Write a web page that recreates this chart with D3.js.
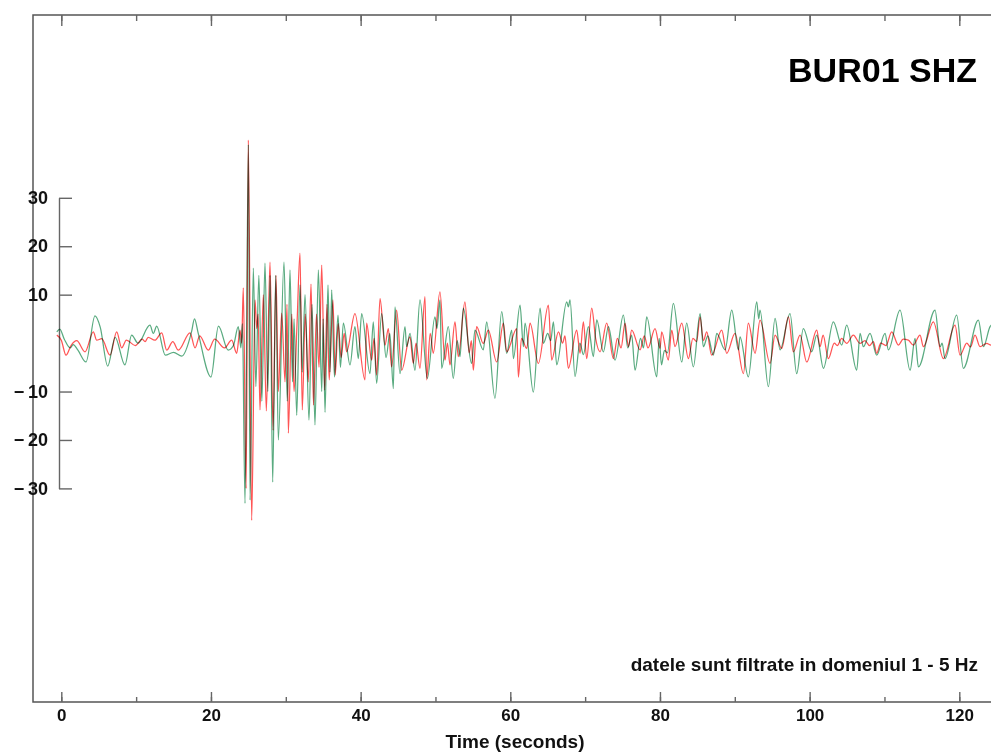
<!DOCTYPE html>
<html>
<head>
<meta charset="utf-8">
<script src="https://cdn.jsdelivr.net/npm/d3@7"></script>
<style>
  body { margin: 0; background: #fff; }
  svg { display: block; }
  .trace { fill: none; stroke-width: 1.25; mix-blend-mode: multiply; stroke-linejoin: round; }
  .frame { stroke: #555; stroke-width: 1.5; fill: none; }
  .axis path, .axis line { stroke: #666; stroke-width: 1.4; }
  .narrow { font-family: "Liberation Sans Narrow", "Arial Narrow", sans-serif; font-weight: bold; fill: #111; }
</style>
</head>
<body>
<svg id="chart" width="991" height="752"></svg>
<script>
// tick values
const xMinorTicks = [0, 10, 20, 30, 40, 50, 60, 70, 80, 90, 100, 110, 120];
const xMajorTicks = [0, 20, 40, 60, 80, 100, 120];
const yTicks = [30, 20, 10, -10, -20, -30];

// [time (s), amplitude], red trace
const redTrace = [
  [-0.6, 1.65], [0.0, 0.6], [0.63, -2.5], [1.3, -0.5], [2.06, 0.5], [3.17, -1.8], [4.28, 2.3], [4.73, 0.6],
  [5.4, 0.9], [6.51, -2.5], [7.4, 2.3], [8.07, -1.0], [8.7, 0.6], [9.9, -0.5], [10.8, 0.8], [11.2, 0.3],
  [11.6, 1.2], [12.5, 0.6], [13.42, 2.1], [14.09, -1.45], [14.9, 0.3], [15.64, -1.45], [17.2, 2.1], [17.87, -1.0],
  [18.5, 1.5], [19.64, -1.45], [20.5, 0.8], [21.8, -1.0], [22.77, 0.6], [23.44, -2.1], [23.88, 2.7], [24.1, 0],
  [24.32, 11.4], [24.7, -30], [24.99, 41.9], [25.44, -36.6], [25.89, 8.9], [26.11, 3], [26.3, 6], [26.55, -13.8],
  [27.0, 10], [27.4, -14], [27.89, 16.7], [28.3, -18], [28.69, 14.0], [29.0, -10], [29.45, 6.2], [29.9, -8],
  [30.16, 8], [30.34, -18.6], [30.8, 6], [31.1, -10], [31.5, 4], [31.9, 18.6], [32.2, -13.8], [32.6, 6],
  [33.0, -8], [33.37, 12.2], [33.7, -12.8], [34.1, 6], [34.44, -5], [34.8, 16.1], [35.2, -9.7], [35.5, 8],
  [35.8, -7.6], [36.3, 8.9], [36.6, -6.6], [37.0, 4], [37.4, -3], [37.8, 2], [38.13, -1.8], [39.24, 6.1],
  [40.58, -7.6], [40.8, 4.1], [41.47, -3.5], [41.8, 1], [42.14, -6.6], [42.59, 9.2], [43.25, -0.4], [43.7, 3.0],
  [44.14, -4.9], [44.81, 6.8], [45.48, -5.6], [46.59, 1.3], [47.04, -4.2], [47.4, 0], [47.93, -5.2], [48.6, 9.6],
  [48.82, -7.6], [49.3, 2], [49.71, -2.1], [50.6, 10.6], [51.27, -3.5], [51.6, 0], [51.94, -4.5], [52.61, 4.4],
  [53.05, -2.8], [53.94, 8.5], [54.5, -2], [54.8, 0.5], [55.06, -5.6], [55.5, 3.4], [56.39, -0.07], [57.06, 2.7],
  [58.18, -3.9], [59.08, 4.1], [59.52, -1.8], [60.86, 3.0], [61.08, -7.0], [61.5, 1], [62.19, -1.1], [62.64, 4.1],
  [63.75, -4.2], [65.09, 7.85], [65.53, -3.5], [66.43, 2.3], [67.0, 0], [67.3, 1.5], [67.76, -5.2], [68.87, 2.7],
  [69.32, -2.1], [69.77, 4.4], [70.21, -3.2], [70.88, 7.2], [71.4, 1], [72.0, -1.8], [72.88, 4.1], [73.78, -3.2],
  [74.3, 1], [74.8, -1], [75.33, 4.1], [75.78, -0.75], [76.22, 2.7], [77.34, -1.4], [77.9, 1.5], [78.4, -1],
  [79.34, 3.0], [80.01, -1.1], [80.23, 2.3], [81.12, -3.5], [81.57, 2.7], [82.01, -0.75], [82.91, 4.1], [83.8, -3.2],
  [84.4, 1], [84.9, 0.3], [85.36, 5.4], [85.8, 0.5], [86.25, 2.3], [86.91, -2.5], [88.25, 2.7], [88.92, -2.1],
  [90.03, 2.0], [91.15, -6.3], [91.81, 4.1], [92.71, -2.1], [93.37, 4.75], [94.71, -4.2], [95.38, 1.65], [96.27, -1.1],
  [97.16, 5.4], [97.83, -1.8], [98.72, 1.65], [99.61, -3.9], [100.95, 2.7], [101.39, -0.75], [101.8, 1.65], [102.5, -3.2],
  [103.3, 0], [103.7, -0.5], [104.29, 0.96], [104.95, -0.07], [105.84, 1.65], [106.74, -0.07], [107.4, 0.5], [108.0, -0.5],
  [108.52, 0.3], [108.96, -2.1], [109.5, 0], [110.2, -0.5], [110.97, 2.3], [111.86, -0.4], [112.5, 0.8], [113.19, 0.6],
  [113.86, -0.4], [114.75, 1.65], [115.2, -0.75], [116.53, 4.4], [117.87, -3.2], [119.43, 3.7], [120.1, -2.5], [121.0, 0],
  [121.5, -0.8], [122.1, 1.65], [122.77, -0.75], [123.66, -0.07], [124.24, -0.4], [124.5, 0]
];

// green trace
const greenTrace = [
  [-0.6, 2.3], [-0.2, 2.9], [0.4, 0.8], [1.2, -1.0], [1.6, -0.3], [2.2, -1.4], [3.3, -3.9], [4.5, 5.6],
  [5.2, 3.3], [6.2, -4.75], [7.2, 1.2], [8.5, -4.5], [9.4, 1.65], [10.25, 0], [11.85, 3.7], [12.3, 2.0],
  [12.75, 3.5], [13.9, -2.5], [15.0, -1.9], [16.1, -2.7], [17.4, 2.3], [17.8, 5.0], [18.3, 2.0], [20.0, -7.0],
  [21.0, 3.5], [22.3, -1.45], [23.0, -0.5], [23.65, 3.4], [24.0, -1.0], [24.2, 4.0], [24.55, -33.1], [25.0, 41.0],
  [25.22, -32.4], [25.66, 15.5], [26.0, -9], [26.4, 14], [26.8, -12], [27.22, 16.5], [27.6, -10], [27.9, 14],
  [28.25, -28.7], [28.65, 14], [29.0, -20.0], [29.76, 16.7], [30.2, -12], [30.56, 15.1], [30.9, -8], [31.1, 5],
  [31.46, -14.9], [31.9, 12], [32.2, -6], [32.57, 10], [33.1, -15.9], [33.5, 8], [33.9, -16.9], [34.35, 15.1],
  [34.8, -10], [35.0, 5], [35.24, -14.3], [35.64, 12.0], [35.9, -6], [36.13, 11.0], [36.5, -7], [36.98, 5.8],
  [37.3, -5], [37.69, 4.1], [38.58, -4.5], [39.24, 3.4], [39.69, -3.2], [40.14, 6.1], [41.25, -6.3], [41.69, 4.4],
  [42.14, -8.3], [42.81, 6.1], [43.4, -3], [43.9, 2], [44.37, -9.4], [44.59, 7.5], [45.26, -6.3], [45.93, 3.4],
  [46.15, -0.75], [46.6, 2], [47.26, -5.6], [47.93, 8.9], [48.91, -7.3], [49.93, 5.4], [50.2, 3], [50.6, 8.9],
  [50.83, -5.2], [51.72, 3.4], [52.38, -7.3], [52.9, 0.5], [53.28, -2.8], [53.72, 7.2], [54.83, -4.2], [55.28, 2.7],
  [56.39, -1.4], [56.84, 4.4], [57.95, -11.4], [58.85, 6.5], [59.52, -2.1], [60.19, 2.7], [60.41, -3.2], [61.3, 7.85],
  [61.75, -0.75], [61.97, 4.1], [63.08, -10.1], [63.98, 7.2], [64.42, -0.07], [65.0, 2.0], [65.4, 0.5], [65.76, 4.4],
  [66.2, -4.5], [67.54, 8.5], [67.76, 7.5], [67.98, 8.9], [68.65, -6.9], [69.3, 0], [69.77, -2.4], [70.43, 3.4],
  [71.1, -2.8], [71.55, 4.8], [72.44, -1.8], [73.11, 3.4], [74.0, -3.5], [75.11, 5.8], [75.7, -1], [76.22, 1.65],
  [76.67, -5.6], [77.4, 1.0], [77.8, -1.0], [78.23, 5.4], [79.57, -6.96], [79.9, 1.0], [80.2, -4.5], [80.6, -1.5],
  [81.0, -2.0], [81.79, 8.2], [82.91, -3.9], [83.57, 4.1], [84.46, -4.9], [85.36, 6.1], [85.8, -0.75], [86.4, 1.5],
  [87.14, -2.5], [87.58, 2.0], [88.7, -1.4], [89.59, 6.8], [90.48, -1.4], [90.7, 1.3], [91.81, -6.96], [92.93, 8.5],
  [93.2, 5], [93.37, 6.8], [94.49, -9.0], [95.38, 5.1], [96.05, -1.4], [97.38, 6.1], [98.27, -6.3], [99.16, 3.0],
  [100.28, -1.8], [100.95, 1.65], [101.84, -5.2], [103.17, 4.4], [104.29, -0.4], [104.95, 3.7], [106.29, -5.6], [106.74, 2.0],
  [107.18, -0.75], [108.07, 2.0], [108.96, -2.5], [110.08, 2.0], [110.52, -1.4], [112.08, 6.8], [113.42, -5.6], [114.09, 0.96],
  [114.53, -4.9], [116.76, 6.8], [117.43, -0.75], [117.7, 0], [118.09, -3.2], [119.65, 5.8], [120.54, -5.2], [122.55, 4.75],
  [123.22, -0.75], [124.11, 3.4], [124.5, 4.0]
];

const frame = { left: 33, top: 15, right: 991, bottom: 702 };

const svg = d3.select('#chart');

const xScale = d3.scaleLinear().domain([0, 120]).range([61.3, 959.3]);
const yScale = d3.scaleLinear().domain([-30, 30]).range([488.4, 197.8]);

// frame lines (left, top, bottom)
svg.append('path')
  .attr('class', 'frame')
  .attr('d', `M${frame.right},${frame.top}H${frame.left}V${frame.bottom}H${frame.right}`);

// top ticks pointing down
svg.append('g')
  .attr('class', 'axis')
  .attr('transform', `translate(0, ${frame.top})`)
  .call(d3.axisTop(xScale).tickValues(xMinorTicks).tickSize(-6).tickFormat(''))
  .call((g) => g.select('.domain').remove());
svg.append('g')
  .attr('class', 'axis')
  .attr('transform', `translate(0, ${frame.top})`)
  .call(d3.axisTop(xScale).tickValues(xMajorTicks).tickSize(-11).tickFormat(''))
  .call((g) => g.select('.domain').remove());

// bottom ticks pointing up, with labels
svg.append('g')
  .attr('class', 'axis')
  .attr('transform', `translate(0, ${frame.bottom})`)
  .call(d3.axisBottom(xScale).tickValues(xMinorTicks).tickSize(-5).tickFormat(''))
  .call((g) => g.select('.domain').remove());
const xAxis = svg.append('g')
  .attr('class', 'axis')
  .attr('transform', `translate(0, ${frame.bottom})`)
  .call(d3.axisBottom(xScale).tickValues(xMajorTicks).tickSize(-10).tickPadding(7))
  .call((g) => g.select('.domain').remove());
xAxis.selectAll('text')
  .attr('class', 'narrow')
  .style('font-size', '17px');

// inner amplitude axis
svg.append('g')
  .attr('class', 'axis')
  .attr('transform', 'translate(59, 0)')
  .call(d3.axisRight(yScale).tickValues(yTicks).tickSize(13).tickSizeOuter(0).tickFormat(''));
const yAxis = svg.append('g')
  .attr('transform', 'translate(59, 0)')
  .call(d3.axisLeft(yScale).tickValues(yTicks).tickSize(0).tickPadding(11)
    .tickFormat((d) => (d < 0 ? '\u2212\u2009' + Math.abs(d) : String(d))))
  .call((g) => g.select('.domain').remove());
yAxis.selectAll('text')
  .style('font-family', '"Liberation Sans", Arial, sans-serif')
  .style('font-weight', 'bold')
  .style('font-size', '18px')
  .attr('fill', '#111');

// traces
const line = d3.line()
  .x((d) => xScale(d[0]))
  .y((d) => yScale(d[1]))
  .curve(d3.curveMonotoneX);

svg.append('path')
  .datum(greenTrace)
  .attr('class', 'trace')
  .attr('stroke', '#5aab80')
  .attr('d', line);

svg.append('path')
  .datum(redTrace)
  .attr('class', 'trace')
  .attr('stroke', '#ff5555')
  .attr('d', line);

// texts
svg.append('text')
  .attr('x', 977)
  .attr('y', 82)
  .attr('text-anchor', 'end')
  .style('font-family', '"Liberation Sans", Arial, sans-serif')
  .style('font-weight', 'bold')
  .style('font-size', '34px')
  .attr('fill', '#000')
  .text('BUR01 SHZ');

svg.append('text')
  .attr('class', 'narrow')
  .attr('x', 978)
  .attr('y', 671)
  .attr('text-anchor', 'end')
  .style('font-size', '19px')
  .text('datele sunt filtrate in domeniul 1 - 5 Hz');

svg.append('text')
  .attr('class', 'narrow')
  .attr('x', 515)
  .attr('y', 748)
  .attr('text-anchor', 'middle')
  .style('font-size', '19px')
  .text('Time (seconds)');
</script>
</body>
</html>
